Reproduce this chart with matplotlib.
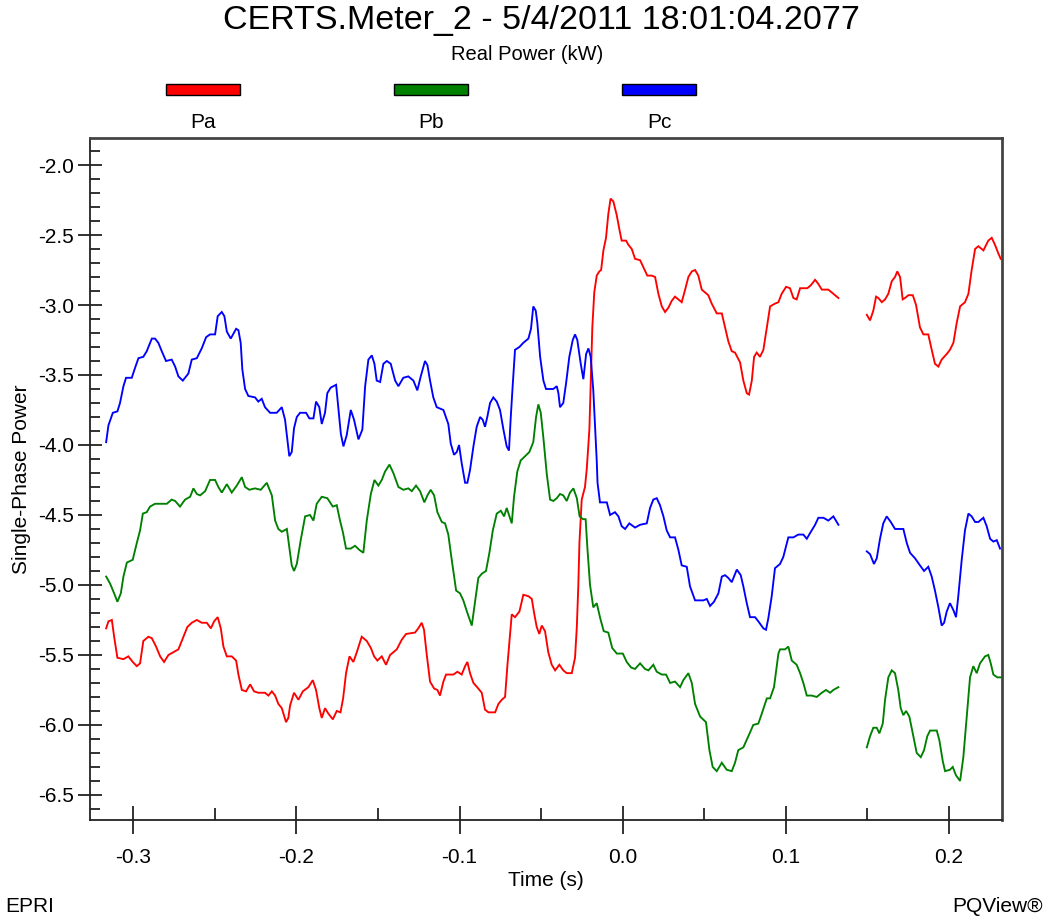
import numpy as np
import matplotlib
matplotlib.use("Agg")
import matplotlib.pyplot as plt
from matplotlib.patches import Rectangle
from matplotlib.ticker import MultipleLocator, FormatStrFormatter

nan = np.nan

# (time s, real power kW) samples per phase; NaN marks the recording gap
pa_points = [
    (-0.3167,-5.31),(-0.3153,-5.26),(-0.3132,-5.25),(-0.3118,-5.37),(-0.3098,-5.52),(-0.3061,-5.53),(-0.3031,-5.51),(-0.3004,-5.55),(-0.2979,-5.58),(-0.2959,-5.56),
    (-0.2939,-5.40),(-0.2908,-5.37),(-0.2887,-5.38),(-0.2861,-5.44),(-0.2836,-5.51),(-0.2812,-5.55),(-0.2785,-5.50),(-0.2755,-5.48),(-0.2724,-5.46),(-0.2693,-5.37),
    (-0.2669,-5.30),(-0.2642,-5.27),(-0.2611,-5.25),(-0.2581,-5.27),(-0.2550,-5.27),(-0.2525,-5.31),(-0.2505,-5.26),(-0.2483,-5.23),(-0.2464,-5.31),(-0.2448,-5.44),
    (-0.2427,-5.51),(-0.2397,-5.51),(-0.2370,-5.54),(-0.2356,-5.64),(-0.2335,-5.75),(-0.2309,-5.76),(-0.2284,-5.71),(-0.2260,-5.76),(-0.2234,-5.77),(-0.2193,-5.77),
    (-0.2172,-5.79),(-0.2151,-5.76),(-0.2131,-5.79),(-0.2111,-5.85),(-0.2090,-5.88),(-0.2064,-5.98),(-0.2050,-5.95),(-0.2039,-5.86),(-0.2015,-5.77),(-0.1988,-5.82),
    (-0.1961,-5.76),(-0.1927,-5.73),(-0.1900,-5.68),(-0.1880,-5.75),(-0.1860,-5.88),(-0.1845,-5.95),(-0.1825,-5.88),(-0.1804,-5.92),(-0.1777,-5.96),(-0.1753,-5.90),
    (-0.1730,-5.91),(-0.1714,-5.81),(-0.1696,-5.63),(-0.1675,-5.51),(-0.1651,-5.55),(-0.1630,-5.48),(-0.1600,-5.37),(-0.1569,-5.40),(-0.1544,-5.45),(-0.1524,-5.51),
    (-0.1504,-5.54),(-0.1477,-5.51),(-0.1451,-5.57),(-0.1426,-5.50),(-0.1385,-5.46),(-0.1354,-5.39),(-0.1328,-5.35),(-0.1273,-5.34),(-0.1253,-5.31),(-0.1232,-5.27),
    (-0.1218,-5.32),(-0.1201,-5.50),(-0.1181,-5.69),(-0.1156,-5.74),(-0.1136,-5.75),(-0.1120,-5.79),(-0.1099,-5.69),(-0.1083,-5.64),(-0.1038,-5.64),(-0.1013,-5.62),
    (-0.0987,-5.64),(-0.0966,-5.58),(-0.0952,-5.55),(-0.0936,-5.63),(-0.0915,-5.70),(-0.0885,-5.74),(-0.0864,-5.77),(-0.0844,-5.89),(-0.0823,-5.91),(-0.0782,-5.91),
    (-0.0762,-5.85),(-0.0741,-5.82),(-0.0721,-5.80),(-0.0707,-5.58),(-0.0680,-5.21),(-0.0660,-5.23),(-0.0633,-5.19),(-0.0609,-5.07),(-0.0578,-5.08),(-0.0557,-5.10),
    (-0.0543,-5.20),(-0.0527,-5.30),(-0.0511,-5.35),(-0.0496,-5.29),(-0.0476,-5.33),(-0.0456,-5.48),(-0.0435,-5.57),(-0.0414,-5.61),(-0.0388,-5.57),(-0.0364,-5.61),
    (-0.0343,-5.63),(-0.0312,-5.63),(-0.0292,-5.52),(-0.0281,-5.30),(-0.0272,-5.01),(-0.0265,-4.70),(-0.0251,-4.39),(-0.0231,-4.30),(-0.0220,-4.17),(-0.0204,-3.89),
    (-0.0196,-3.57),(-0.0189,-3.29),(-0.0186,-3.16),(-0.0174,-2.91),(-0.0159,-2.79),(-0.0143,-2.76),(-0.0132,-2.75),(-0.0118,-2.61),(-0.0102,-2.52),(-0.0088,-2.35),
    (-0.0074,-2.24),(-0.0057,-2.26),(-0.0036,-2.36),(-0.0020,-2.46),(-0.0006,-2.54),(0.0021,-2.54),(0.0035,-2.57),(0.0056,-2.60),(0.0076,-2.67),(0.0107,-2.68),
    (0.0127,-2.73),(0.0151,-2.79),(0.0178,-2.79),(0.0199,-2.80),(0.0219,-2.92),(0.0240,-3.01),(0.0260,-3.05),(0.0280,-3.02),(0.0301,-2.97),(0.0321,-2.94),
    (0.0342,-2.96),(0.0362,-2.98),(0.0383,-2.89),(0.0403,-2.80),(0.0424,-2.76),(0.0444,-2.75),(0.0464,-2.79),(0.0485,-2.89),(0.0505,-2.91),(0.0525,-2.93),
    (0.0546,-2.99),(0.0577,-3.06),(0.0608,-3.06),(0.0628,-3.16),(0.0648,-3.26),(0.0669,-3.33),(0.0689,-3.34),(0.0720,-3.41),(0.0740,-3.54),(0.0761,-3.63),
    (0.0775,-3.64),(0.0792,-3.54),(0.0806,-3.37),(0.0822,-3.34),(0.0842,-3.37),(0.0863,-3.32),(0.0884,-3.16),(0.0904,-3.01),(0.0934,-2.99),(0.0955,-2.98),
    (0.0975,-2.92),(0.1002,-2.87),(0.1026,-2.88),(0.1047,-2.95),(0.1067,-2.96),(0.1088,-2.88),(0.1132,-2.88),(0.1153,-2.86),(0.1180,-2.82),(0.1200,-2.85),
    (0.1221,-2.89),(0.1261,-2.89),(0.1292,-2.92),(0.1323,-2.95),(0.1410,nan),
    (0.1497,-3.07),(0.1517,-3.11),(0.1537,-3.04),(0.1554,-2.94),(0.1568,-2.95),(0.1589,-2.98),(0.1609,-2.96),(0.1629,-2.92),(0.1650,-2.83),(0.1670,-2.80),
    (0.1684,-2.76),(0.1701,-2.80),(0.1717,-2.96),(0.1731,-2.95),(0.1752,-2.93),(0.1779,-2.93),(0.1799,-3.00),(0.1823,-3.16),(0.1844,-3.21),(0.1874,-3.21),
    (0.1895,-3.32),(0.1915,-3.42),(0.1936,-3.44),(0.1956,-3.39),(0.1987,-3.35),(0.2007,-3.32),(0.2028,-3.27),(0.2048,-3.13),(0.2069,-3.01),(0.2099,-2.98),
    (0.2120,-2.92),(0.2140,-2.75),(0.2161,-2.60),(0.2181,-2.58),(0.2212,-2.61),(0.2242,-2.54),(0.2263,-2.52),(0.2283,-2.57),(0.2303,-2.63),(0.2318,-2.67),
]

pb_points = [
    (-0.3167,-4.94),(-0.3143,-4.99),(-0.3118,-5.06),(-0.3098,-5.12),(-0.3077,-5.06),(-0.3061,-4.94),(-0.3040,-4.84),(-0.3004,-4.82),(-0.2979,-4.70),(-0.2959,-4.61),
    (-0.2942,-4.49),(-0.2918,-4.48),(-0.2898,-4.44),(-0.2867,-4.42),(-0.2795,-4.42),(-0.2765,-4.39),(-0.2744,-4.40),(-0.2714,-4.44),(-0.2683,-4.39),(-0.2652,-4.37),
    (-0.2632,-4.31),(-0.2611,-4.35),(-0.2591,-4.36),(-0.2560,-4.33),(-0.2530,-4.25),(-0.2499,-4.25),(-0.2479,-4.30),(-0.2458,-4.34),(-0.2427,-4.28),(-0.2397,-4.34),
    (-0.2366,-4.29),(-0.2335,-4.23),(-0.2315,-4.30),(-0.2289,-4.32),(-0.2254,-4.31),(-0.2219,-4.32),(-0.2182,-4.27),(-0.2151,-4.36),(-0.2131,-4.54),(-0.2111,-4.60),
    (-0.2090,-4.62),(-0.2059,-4.60),(-0.2044,-4.73),(-0.2029,-4.86),(-0.2015,-4.90),(-0.1998,-4.85),(-0.1974,-4.68),(-0.1947,-4.51),(-0.1917,-4.50),(-0.1896,-4.54),
    (-0.1876,-4.42),(-0.1845,-4.37),(-0.1811,-4.38),(-0.1777,-4.44),(-0.1753,-4.43),(-0.1733,-4.54),(-0.1716,-4.62),(-0.1696,-4.74),(-0.1667,-4.74),(-0.1641,-4.72),
    (-0.1614,-4.75),(-0.1590,-4.77),(-0.1569,-4.54),(-0.1544,-4.35),(-0.1522,-4.25),(-0.1498,-4.29),(-0.1477,-4.25),(-0.1457,-4.19),(-0.1430,-4.14),(-0.1406,-4.20),
    (-0.1375,-4.30),(-0.1345,-4.32),(-0.1314,-4.31),(-0.1293,-4.33),(-0.1267,-4.29),(-0.1242,-4.33),(-0.1216,-4.41),(-0.1197,-4.36),(-0.1177,-4.32),(-0.1156,-4.36),
    (-0.1136,-4.48),(-0.1109,-4.55),(-0.1089,-4.56),(-0.1069,-4.64),(-0.1048,-4.82),(-0.1021,-5.04),(-0.0997,-5.06),(-0.0977,-5.11),(-0.0952,-5.20),(-0.0925,-5.29),
    (-0.0905,-5.12),(-0.0885,-4.95),(-0.0864,-4.92),(-0.0838,-4.90),(-0.0817,-4.77),(-0.0796,-4.61),(-0.0772,-4.49),(-0.0747,-4.47),(-0.0727,-4.51),(-0.0711,-4.45),
    (-0.0697,-4.50),(-0.0680,-4.56),(-0.0666,-4.37),(-0.0646,-4.19),(-0.0625,-4.11),(-0.0598,-4.08),(-0.0572,-4.05),(-0.0548,-3.98),(-0.0531,-3.80),(-0.0517,-3.71),
    (-0.0502,-3.77),(-0.0486,-3.95),(-0.0465,-4.21),(-0.0445,-4.39),(-0.0425,-4.40),(-0.0404,-4.38),(-0.0384,-4.35),(-0.0364,-4.36),(-0.0343,-4.40),(-0.0323,-4.34),
    (-0.0302,-4.31),(-0.0281,-4.38),(-0.0264,-4.51),(-0.0243,-4.53),(-0.0227,-4.53),(-0.0216,-4.74),(-0.0200,-5.00),(-0.0180,-5.16),(-0.0159,-5.13),(-0.0137,-5.24),
    (-0.0116,-5.33),(-0.0088,-5.34),(-0.0064,-5.45),(-0.0036,-5.49),(0.0001,-5.49),(0.0025,-5.55),(0.0052,-5.59),(0.0076,-5.60),(0.0107,-5.56),(0.0137,-5.60),
    (0.0158,-5.61),(0.0188,-5.57),(0.0209,-5.62),(0.0240,-5.64),(0.0266,-5.64),(0.0291,-5.70),(0.0321,-5.69),(0.0352,-5.73),(0.0372,-5.68),(0.0403,-5.63),
    (0.0424,-5.70),(0.0444,-5.85),(0.0475,-5.94),(0.0511,-5.98),(0.0532,-6.18),(0.0552,-6.30),(0.0577,-6.33),(0.0608,-6.27),(0.0638,-6.32),(0.0669,-6.33),
    (0.0689,-6.27),(0.0709,-6.18),(0.0740,-6.16),(0.0771,-6.08),(0.0801,-6.00),(0.0832,-5.99),(0.0853,-5.92),(0.0884,-5.81),(0.0904,-5.81),(0.0928,-5.73),
    (0.0955,-5.49),(0.0965,-5.46),(0.0996,-5.46),(0.1016,-5.44),(0.1037,-5.54),(0.1067,-5.57),(0.1088,-5.63),(0.1108,-5.70),(0.1129,-5.79),(0.1159,-5.79),
    (0.1190,-5.80),(0.1221,-5.77),(0.1247,-5.75),(0.1272,-5.77),(0.1292,-5.75),(0.1323,-5.73),(0.1410,nan),
    (0.1497,-6.16),(0.1517,-6.08),(0.1537,-6.02),(0.1558,-6.02),(0.1574,-6.06),(0.1595,-5.99),(0.1609,-5.82),(0.1629,-5.66),(0.1650,-5.61),(0.1670,-5.63),
    (0.1690,-5.75),(0.1705,-5.88),(0.1721,-5.93),(0.1738,-5.90),(0.1758,-5.94),(0.1779,-6.06),(0.1803,-6.20),(0.1828,-6.23),(0.1848,-6.18),(0.1868,-6.08),
    (0.1885,-6.04),(0.1926,-6.04),(0.1942,-6.11),(0.1963,-6.26),(0.1977,-6.33),(0.2007,-6.32),(0.2024,-6.30),(0.2044,-6.36),(0.2069,-6.40),(0.2089,-6.23),
    (0.2110,-5.94),(0.2130,-5.66),(0.2150,-5.58),(0.2171,-5.63),(0.2191,-5.56),(0.2222,-5.51),(0.2242,-5.50),(0.2257,-5.56),(0.2273,-5.64),(0.2297,-5.66),
    (0.2324,-5.66),
]

pc_points = [
    (-0.3167,-3.98),(-0.3153,-3.86),(-0.3126,-3.77),(-0.3098,-3.76),(-0.3082,-3.70),(-0.3061,-3.58),(-0.3045,-3.52),(-0.3010,-3.52),(-0.2990,-3.45),(-0.2969,-3.38),
    (-0.2939,-3.37),(-0.2918,-3.33),(-0.2887,-3.24),(-0.2867,-3.24),(-0.2847,-3.27),(-0.2826,-3.33),(-0.2800,-3.40),(-0.2765,-3.39),(-0.2744,-3.44),(-0.2724,-3.51),
    (-0.2697,-3.54),(-0.2663,-3.49),(-0.2642,-3.39),(-0.2611,-3.38),(-0.2581,-3.31),(-0.2554,-3.23),(-0.2530,-3.21),(-0.2499,-3.21),(-0.2483,-3.08),(-0.2458,-3.05),
    (-0.2442,-3.08),(-0.2427,-3.19),(-0.2403,-3.24),(-0.2370,-3.17),(-0.2356,-3.18),(-0.2342,-3.27),(-0.2332,-3.46),(-0.2315,-3.60),(-0.2295,-3.65),(-0.2254,-3.66),
    (-0.2234,-3.69),(-0.2213,-3.67),(-0.2193,-3.73),(-0.2162,-3.77),(-0.2121,-3.77),(-0.2090,-3.73),(-0.2070,-3.82),(-0.2056,-3.96),(-0.2044,-4.08),(-0.2029,-4.05),
    (-0.2015,-3.88),(-0.1998,-3.80),(-0.1978,-3.77),(-0.1941,-3.77),(-0.1921,-3.81),(-0.1896,-3.81),(-0.1880,-3.69),(-0.1860,-3.73),(-0.1845,-3.85),(-0.1825,-3.77),
    (-0.1811,-3.63),(-0.1790,-3.59),(-0.1757,-3.57),(-0.1743,-3.74),(-0.1728,-3.92),(-0.1712,-4.01),(-0.1692,-3.93),(-0.1667,-3.75),(-0.1647,-3.82),(-0.1620,-3.96),
    (-0.1596,-3.89),(-0.1579,-3.58),(-0.1559,-3.39),(-0.1538,-3.36),(-0.1522,-3.42),(-0.1508,-3.54),(-0.1487,-3.55),(-0.1467,-3.42),(-0.1446,-3.40),(-0.1422,-3.42),
    (-0.1395,-3.54),(-0.1375,-3.58),(-0.1345,-3.52),(-0.1314,-3.51),(-0.1283,-3.54),(-0.1259,-3.61),(-0.1238,-3.51),(-0.1212,-3.40),(-0.1197,-3.43),(-0.1181,-3.54),
    (-0.1161,-3.66),(-0.1140,-3.73),(-0.1099,-3.75),(-0.1069,-3.85),(-0.1054,-3.99),(-0.1034,-4.07),(-0.1017,-4.05),(-0.1003,-4.00),(-0.0987,-4.13),(-0.0966,-4.27),
    (-0.0952,-4.27),(-0.0936,-4.18),(-0.0915,-4.01),(-0.0895,-3.87),(-0.0874,-3.80),(-0.0858,-3.82),(-0.0844,-3.87),(-0.0830,-3.80),(-0.0813,-3.70),(-0.0793,-3.66),
    (-0.0772,-3.69),(-0.0752,-3.75),(-0.0731,-3.89),(-0.0711,-4.01),(-0.0697,-4.04),(-0.0686,-3.80),(-0.0675,-3.59),(-0.0660,-3.32),(-0.0633,-3.30),(-0.0609,-3.27),
    (-0.0578,-3.24),(-0.0562,-3.17),(-0.0548,-3.01),(-0.0533,-3.04),(-0.0523,-3.13),(-0.0506,-3.37),(-0.0486,-3.54),(-0.0470,-3.60),(-0.0425,-3.60),(-0.0404,-3.58),
    (-0.0394,-3.63),(-0.0384,-3.73),(-0.0364,-3.70),(-0.0347,-3.56),(-0.0327,-3.37),(-0.0306,-3.25),(-0.0292,-3.21),(-0.0278,-3.25),(-0.0257,-3.42),(-0.0241,-3.53),
    (-0.0224,-3.35),(-0.0210,-3.31),(-0.0196,-3.37),(-0.0180,-3.61),(-0.0169,-3.87),(-0.0159,-4.11),(-0.0154,-4.27),(-0.0139,-4.41),(-0.0097,-4.41),(-0.0077,-4.50),
    (-0.0047,-4.48),(-0.0026,-4.51),(-0.0006,-4.58),(0.0015,-4.60),(0.0041,-4.56),(0.0076,-4.59),(0.0107,-4.57),(0.0148,-4.56),(0.0168,-4.45),(0.0188,-4.39),
    (0.0209,-4.38),(0.0229,-4.43),(0.0250,-4.51),(0.0270,-4.61),(0.0291,-4.66),(0.0321,-4.66),(0.0342,-4.75),(0.0362,-4.86),(0.0393,-4.87),(0.0413,-5.01),
    (0.0444,-5.11),(0.0495,-5.11),(0.0516,-5.10),(0.0536,-5.15),(0.0560,-5.12),(0.0587,-5.06),(0.0608,-4.94),(0.0628,-4.93),(0.0648,-4.95),(0.0669,-4.98),
    (0.0700,-4.89),(0.0724,-4.93),(0.0740,-5.01),(0.0761,-5.13),(0.0781,-5.23),(0.0812,-5.23),(0.0832,-5.26),(0.0863,-5.31),(0.0879,-5.32),(0.0893,-5.24),
    (0.0914,-5.08),(0.0934,-4.88),(0.0965,-4.85),(0.0985,-4.80),(0.1016,-4.66),(0.1047,-4.66),(0.1077,-4.64),(0.1108,-4.64),(0.1129,-4.67),(0.1149,-4.63),
    (0.1180,-4.57),(0.1200,-4.52),(0.1231,-4.52),(0.1261,-4.54),(0.1292,-4.51),(0.1323,-4.57),(0.1410,nan),
    (0.1497,-4.76),(0.1517,-4.78),(0.1541,-4.85),(0.1558,-4.81),(0.1578,-4.67),(0.1598,-4.56),(0.1619,-4.51),(0.1644,-4.55),(0.1670,-4.60),(0.1701,-4.60),
    (0.1721,-4.60),(0.1742,-4.70),(0.1762,-4.77),(0.1793,-4.81),(0.1823,-4.86),(0.1848,-4.90),(0.1874,-4.87),(0.1895,-4.94),(0.1915,-5.04),(0.1936,-5.16),
    (0.1956,-5.29),(0.1971,-5.27),(0.1987,-5.19),(0.2007,-5.13),(0.2028,-5.18),(0.2044,-5.23),(0.2058,-5.08),(0.2079,-4.82),(0.2099,-4.61),(0.2120,-4.49),
    (0.2140,-4.51),(0.2161,-4.55),(0.2181,-4.55),(0.2212,-4.52),(0.2232,-4.58),(0.2253,-4.67),(0.2273,-4.69),(0.2294,-4.68),(0.2314,-4.74),
]

series_names = ["Pa", "Pb", "Pc"]
series_colors = ["#ff0000", "#008000", "#0000ff"]
x_major_ticks = [-0.3, -0.2, -0.1, 0.0, 0.1, 0.2]
y_major_ticks = [-2.0, -2.5, -3.0, -3.5, -4.0, -4.5, -5.0, -5.5, -6.0, -6.5]

title_text = "CERTS.Meter_2 - 5/4/2011 18:01:04.2077"
subtitle_text = "Real Power (kW)"

FONT = ["Liberation Sans", "DejaVu Sans"]
plt.rcParams["font.family"] = FONT

W, H = 1046, 918
fig = plt.figure(figsize=(W / 100, H / 100), dpi=100)
fig.patch.set_facecolor("white")

# plot frame placed in pixel terms
left, right, top, bottom = 90, 1002, 138, 820
ax = fig.add_axes([left / W, 1 - bottom / H, (right - left) / W, (bottom - top) / H])

for pts, color in zip([pa_points, pb_points, pc_points], series_colors):
    t, v = zip(*pts)
    ax.plot(t, v, color=color, lw=1.35, solid_joinstyle="miter", antialiased=True)

ax.set_xlim(-0.3266, 0.2326)
ax.set_ylim(-6.679, -1.807)

ax.set_xticks(x_major_ticks)
ax.xaxis.set_minor_locator(MultipleLocator(0.05))
ax.set_yticks(y_major_ticks)
ax.yaxis.set_minor_locator(MultipleLocator(0.1))
ax.xaxis.set_major_formatter(FormatStrFormatter("%.1f"))
ax.yaxis.set_major_formatter(FormatStrFormatter("%.1f"))

ax.tick_params(axis="x", which="major", direction="inout", length=20, width=1.3,
               pad=10, labelsize=15, colors="#222222")
ax.tick_params(axis="x", which="minor", direction="in", length=9, width=1.3, color="#222222")
ax.tick_params(axis="y", which="major", direction="inout", length=17, width=1.3,
               pad=3, labelsize=15, colors="#222222")
ax.tick_params(axis="y", which="minor", direction="in", length=7.5, width=1.3, color="#222222")
for lab in ax.get_xticklabels() + ax.get_yticklabels():
    lab.set_color("black")

for side in ["left", "bottom"]:
    ax.spines[side].set_color("#222222")
    ax.spines[side].set_linewidth(1.3)
for side in ["top", "right"]:
    ax.spines[side].set_color("#444444")
    ax.spines[side].set_linewidth(2.0)

ax.set_xlabel("Time (s)", fontsize=15, labelpad=3)
ax.set_ylabel("Single-Phase Power", fontsize=15, labelpad=5)

# headings
fig.text(541 / W, 1 - 20 / H, title_text, ha="center", va="center", fontsize=24.5)
fig.text(527 / W, 1 - 55 / H, subtitle_text, ha="center", va="center", fontsize=14.5)

# legend swatches across the top
legend_x = [166, 394, 622]
for name, color, x0 in zip(series_names, series_colors, legend_x):
    fig.patches.append(Rectangle((x0 / W, 1 - 95 / H), 74 / W, 11 / H,
                                 transform=fig.transFigure, facecolor=color,
                                 edgecolor="black", lw=1.0))
    fig.text((x0 + 37) / W, 1 - 123 / H, name, ha="center", va="center", fontsize=15)

fig.text(5 / W, 1 - 906 / H, "EPRI", ha="left", va="center", fontsize=15)
fig.text(1043 / W, 1 - 906 / H, "PQView\u00ae", ha="right", va="center", fontsize=15)

fig.savefig("out.png", dpi=100, facecolor="white")
